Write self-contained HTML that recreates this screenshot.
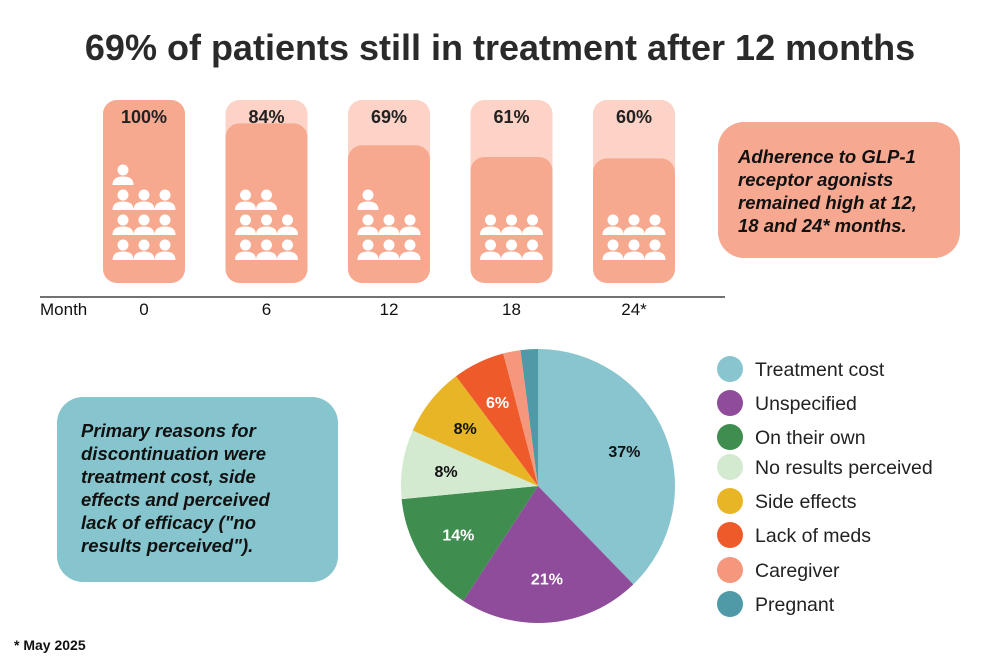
<!DOCTYPE html>
<html><head><meta charset="utf-8"><style>
body{margin:0;width:1000px;height:664px;background:#fff;font-family:"Liberation Sans",sans-serif;overflow:hidden;position:relative}
.t{position:absolute}
.box{position:absolute;border-radius:26px;font-weight:bold;font-style:italic;font-size:18.5px;line-height:23px;color:#111}
</style></head><body>
<div class="t" style="left:0;width:1000px;top:27px;text-align:center;font-size:36px;font-weight:bold;color:#2a2a2a">69% of patients still in treatment after 12 months</div>
<svg id="bars" width="1000" height="330" style="position:absolute;left:0;top:0"></svg>
<div class="box" style="left:718px;top:122px;width:242px;height:136px;background:#f6a890;padding:23px 18px 0 20px;box-sizing:border-box">Adherence to GLP-1 receptor agonists remained high at 12, 18 and 24* months.</div>
<div class="box" style="left:57px;top:397px;width:281px;height:185px;background:#87c5ce;padding:22px 40px 0 24px;box-sizing:border-box">Primary reasons for discontinuation were treatment cost, side effects and perceived lack of efficacy ("no results perceived").</div>
<svg id="pie" width="1000" height="664" style="position:absolute;left:0;top:0;pointer-events:none"></svg>
<div class="t" style="left:14px;top:637px;font-size:14px;font-weight:bold;color:#111">* May 2025</div>
<script>
const months=["0","6","12","18","24*"];
const adherence=[100,84,69,61,60];
const icons=[10,8,7,6,6];
const reasons=["Treatment cost","Unspecified","On their own","No results perceived","Side effects","Lack of meds","Caregiver","Pregnant"];
const shares=[37,21,14,8,8,6,2,2];
const shareLabels=["37%","21%","14%","8%","8%","6%","",""];
const colors=["#88c5cf","#8e4c9a","#3f8d4f","#d4ead0","#e8b527","#ee5a2a","#f4977c","#4f9aa6"];
const labelColors=["#111","#fff","#fff","#111","#111","#fff","#111","#111"];
const NS="http://www.w3.org/2000/svg";
function mk(p,tag,a){const e=document.createElementNS(NS,tag);for(const k in a)e.setAttribute(k,a[k]);p.appendChild(e);return e;}
const bs=document.getElementById('bars');
const xC=i=>144+i*122.5, base=283, hOf=v=>37+1.46*v;
mk(bs,'line',{x1:40,x2:725,y1:297,y2:297,stroke:'#444','stroke-width':1.5});
let ml=mk(bs,'text',{x:40,y:315,'font-size':17,fill:'#111'});ml.textContent='Month';


adherence.forEach((v,i)=>{
  const x=xC(i)-41;
  const o=mk(bs,'rect',{x:x,y:100,width:82,height:183,rx:14,fill:'#fcd3c6'});
  
  
  const h=hOf(v);
  const r=mk(bs,'rect',{x:x,y:base-h,width:82,height:h,rx:14,fill:'#f6a98f'});
  
  
  const t=mk(bs,'text',{x:xC(i),y:123,'text-anchor':'middle','font-size':18,'font-weight':'bold',fill:'#222'});t.textContent=v+'%';
  
  
  const l=mk(bs,'text',{x:xC(i),y:315,'text-anchor':'middle','font-size':17,fill:'#111'});l.textContent=months[i];
  
  
  const n=icons[i];const full=Math.floor(n/3);
  for(let k=0;k<n;k++){
    let row,col;
    if(k<full*3){row=Math.floor(k/3);col=k%3;}else{row=full;col=k-full*3;}
    const cx=xC(i)-21+col*21, cy=252-row*25;
    const g=mk(bs,'g',{fill:'#fff'});
    
    
    mk(g,'circle',{cx:cx,cy:cy-7,r:5.5});
    mk(g,'path',{d:`M${cx-10.5} ${cy+8} Q${cx-10.5} ${cy-0.5} ${cx} ${cy-0.5} Q${cx+10.5} ${cy-0.5} ${cx+10.5} ${cy+8} Z`});
  }
});
const ps=document.getElementById('pie');
const cx=538,cy=486,R=137,tot=shares.reduce((a,b)=>a+b,0);
let a0=0;
shares.forEach((s,i)=>{
  const a1=a0+s/tot*2*Math.PI;
  const p=(a)=>[cx+R*Math.sin(a),cy-R*Math.cos(a)];
  const [x0,y0]=p(a0),[x1,y1]=p(a1);
  const sl=mk(ps,'path',{d:`M${cx} ${cy} L${x0} ${y0} A${R} ${R} 0 ${a1-a0>Math.PI?1:0} 1 ${x1} ${y1} Z`,fill:colors[i]});
  
  
  if(shareLabels[i]){
    const am=(a0+a1)/2,rr=R*0.68;
    const t=mk(ps,'text',{x:cx+rr*Math.sin(am),y:cy-rr*Math.cos(am)+6,'text-anchor':'middle','font-size':16,'font-weight':'bold',fill:labelColors[i]});
    t.textContent=shareLabels[i];
    
    
  }
  const ly=[369,403,437,467,501,535,570,604][i];
  const lc=mk(ps,'circle',{cx:730,cy:ly,r:13,fill:colors[i]});
  
  
  const lt=mk(ps,'text',{x:755,y:ly+7,'font-size':19.5,fill:'#222'});lt.textContent=reasons[i];
  
  
  a0=a1;
});
</script>
</body></html>
